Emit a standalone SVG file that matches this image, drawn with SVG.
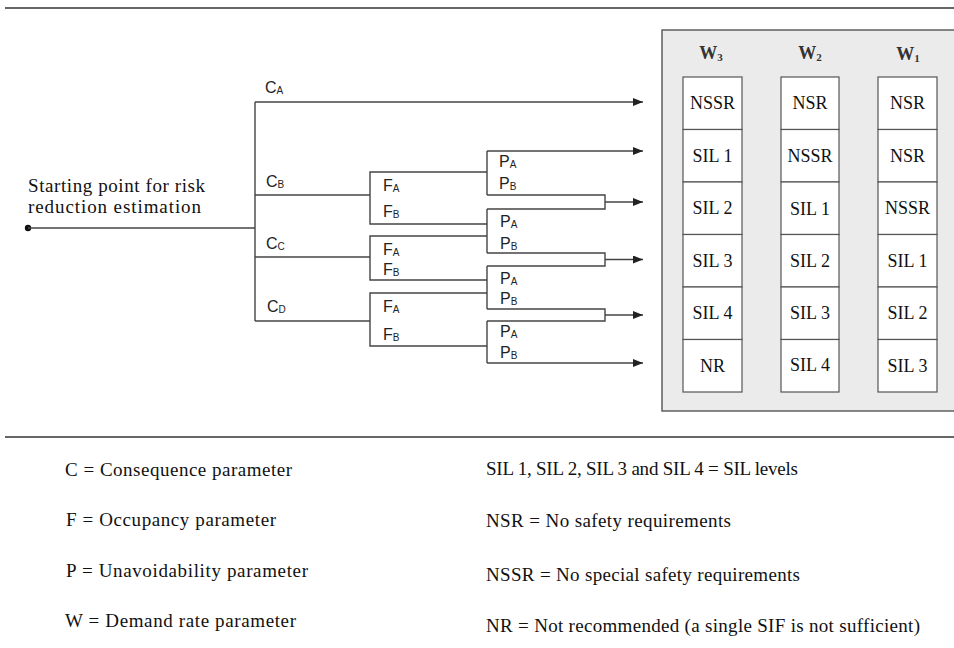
<svg xmlns="http://www.w3.org/2000/svg" width="954" height="648" viewBox="0 0 954 648">
<defs>
<marker id="arr" markerUnits="userSpaceOnUse" markerWidth="10" markerHeight="8" refX="10" refY="4" orient="auto">
<path d="M0,0 L10,4 L0,8 z" fill="#222"/>
</marker>
<style>
.ln{stroke:#444;stroke-width:1.4;fill:none}
.rule{stroke:#666;stroke-width:2}
.cell{fill:#fff;stroke:#555;stroke-width:1.2}
.ct{font-family:"Liberation Serif","Times New Roman",serif;font-size:18px;fill:#111;text-anchor:middle}
.hd{font-family:"Liberation Serif","Times New Roman",serif;font-size:18px;font-weight:bold;fill:#333;text-anchor:middle}
.lg{font-family:"Liberation Serif","Times New Roman",serif;font-size:19px;fill:#111}
.br{font-family:"Liberation Sans",Arial,sans-serif;font-size:16px;fill:#222}
.sb{font-size:10px}
</style>
</defs>
<rect width="954" height="648" fill="#fff"/>
<line class="rule" x1="5" y1="8" x2="954" y2="8"/>
<line class="rule" x1="5" y1="437" x2="954" y2="437"/>

<g id="matrix">
<rect x="662" y="30" width="300" height="381" fill="#ebebeb" stroke="#555" stroke-width="1.4"/>
<text class="hd" x="711" y="59">W<tspan font-size="11" dy="2">3</tspan></text>
<text class="hd" x="810" y="59">W<tspan font-size="11" dy="2">2</tspan></text>
<text class="hd" x="908" y="60">W<tspan font-size="11" dy="2">1</tspan></text>
</g>

<g id="col-w3">
<rect class="cell" x="683" y="77" width="59" height="52.5"/><text class="ct" x="712.5" y="109">NSSR</text>
<rect class="cell" x="683" y="129.5" width="59" height="52.5"/><text class="ct" x="712.5" y="161.5">SIL 1</text>
<rect class="cell" x="683" y="182" width="59" height="52.5"/><text class="ct" x="712.5" y="214">SIL 2</text>
<rect class="cell" x="683" y="234.5" width="59" height="52.5"/><text class="ct" x="712.5" y="266.5">SIL 3</text>
<rect class="cell" x="683" y="287" width="59" height="52.5"/><text class="ct" x="712.5" y="319">SIL 4</text>
<rect class="cell" x="683" y="339.5" width="59" height="52.5"/><text class="ct" x="712.5" y="371.5">NR</text>
</g>
<g id="col-w2">
<rect class="cell" x="781" y="77" width="58" height="52.5"/><text class="ct" x="810" y="109">NSR</text>
<rect class="cell" x="781" y="129.5" width="58" height="52.5"/><text class="ct" x="810" y="161.5">NSSR</text>
<rect class="cell" x="781" y="182" width="58" height="52.5"/><text class="ct" x="810" y="215">SIL 1</text>
<rect class="cell" x="781" y="234.5" width="58" height="52.5"/><text class="ct" x="810" y="266.5">SIL 2</text>
<rect class="cell" x="781" y="287" width="58" height="52.5"/><text class="ct" x="810" y="319">SIL 3</text>
<rect class="cell" x="781" y="339.5" width="58" height="52.5"/><text class="ct" x="810" y="371">SIL 4</text>
</g>
<g id="col-w1">
<rect class="cell" x="878" y="77" width="59" height="52.5"/><text class="ct" x="907.5" y="109">NSR</text>
<rect class="cell" x="878" y="129.5" width="59" height="52.5"/><text class="ct" x="907.5" y="162">NSR</text>
<rect class="cell" x="878" y="182" width="59" height="52.5"/><text class="ct" x="907.5" y="214">NSSR</text>
<rect class="cell" x="878" y="234.5" width="59" height="52.5"/><text class="ct" x="907.5" y="266.5">SIL 1</text>
<rect class="cell" x="878" y="287" width="59" height="52.5"/><text class="ct" x="907.5" y="319">SIL 2</text>
<rect class="cell" x="878" y="339.5" width="59" height="52.5"/><text class="ct" x="907.5" y="372">SIL 3</text>
</g>

<g id="start">
<circle cx="28" cy="228" r="3.2" fill="#111"/>
<text class="lg" x="28" y="192" textLength="177">Starting point for risk</text>
<text class="lg" x="28" y="213" textLength="173">reduction estimation</text>
</g>

<g id="connectors" class="ln">
<line x1="28" y1="228" x2="255" y2="228"/>
<line x1="255" y1="102" x2="255" y2="321"/>
<line x1="255" y1="102" x2="643" y2="102" marker-end="url(#arr)"/>
<line x1="255" y1="195" x2="370" y2="195"/>
<line x1="255" y1="257" x2="370" y2="257"/>
<line x1="255" y1="321" x2="370" y2="321"/>
<polyline points="487,172 370,172 370,224 487,224"/>
<polyline points="487,236 370,236 370,280 487,280"/>
<polyline points="487,293 370,293 370,346 487,346"/>
<line x1="487" y1="151" x2="487" y2="195"/>
<line x1="487" y1="151" x2="643" y2="151" marker-end="url(#arr)"/>
<polyline points="487,195 605,195 605,209 487,209"/>
<line x1="605" y1="202" x2="643" y2="202" marker-end="url(#arr)"/>
<line x1="487" y1="209" x2="487" y2="253"/>
<polyline points="487,253 605,253 605,266 487,266"/>
<line x1="605" y1="259.5" x2="643" y2="259.5" marker-end="url(#arr)"/>
<line x1="487" y1="266" x2="487" y2="309"/>
<polyline points="487,309 605,309 605,321 487,321"/>
<line x1="605" y1="315" x2="643" y2="315" marker-end="url(#arr)"/>
<line x1="487" y1="321" x2="487" y2="363"/>
<line x1="487" y1="363" x2="643" y2="363" marker-end="url(#arr)"/>
</g>

<g id="c-labels" class="br">
<text x="265" y="93">C<tspan class="sb" dy="1">A</tspan></text>
<text x="266" y="187">C<tspan class="sb" dy="1">B</tspan></text>
<text x="266" y="249">C<tspan class="sb" dy="1">C</tspan></text>
<text x="267" y="312">C<tspan class="sb" dy="1">D</tspan></text>
</g>
<g id="f-labels" class="br">
<text x="383" y="191">F<tspan class="sb" dy="1">A</tspan></text>
<text x="383" y="217">F<tspan class="sb" dy="1">B</tspan></text>
<text x="383" y="255">F<tspan class="sb" dy="1">A</tspan></text>
<text x="383" y="275">F<tspan class="sb" dy="1">B</tspan></text>
<text x="383" y="312">F<tspan class="sb" dy="1">A</tspan></text>
<text x="383" y="340">F<tspan class="sb" dy="1">B</tspan></text>
</g>
<g id="p-labels" class="br">
<text x="499" y="167">P<tspan class="sb" dy="1">A</tspan></text>
<text x="499" y="189">P<tspan class="sb" dy="1">B</tspan></text>
<text x="500" y="227">P<tspan class="sb" dy="1">A</tspan></text>
<text x="500" y="249">P<tspan class="sb" dy="1">B</tspan></text>
<text x="500" y="284">P<tspan class="sb" dy="1">A</tspan></text>
<text x="500" y="304">P<tspan class="sb" dy="1">B</tspan></text>
<text x="500" y="337">P<tspan class="sb" dy="1">A</tspan></text>
<text x="500" y="358">P<tspan class="sb" dy="1">B</tspan></text>
</g>

<g id="legend-left" class="lg">
<text x="65" y="476" textLength="227">C = Consequence parameter</text>
<text x="66" y="526" textLength="210">F = Occupancy parameter</text>
<text x="66" y="577" textLength="242">P = Unavoidability parameter</text>
<text x="65" y="627" textLength="231">W = Demand rate parameter</text>
</g>
<g id="legend-right" class="lg">
<text x="486" y="475" textLength="312">SIL 1, SIL 2, SIL 3 and SIL 4 = SIL levels</text>
<text x="486" y="527" textLength="245">NSR = No safety requirements</text>
<text x="486" y="581" textLength="314">NSSR = No special safety requirements</text>
<text x="486" y="632" textLength="434">NR = Not recommended (a single SIF is not sufficient)</text>
</g>
</svg>
